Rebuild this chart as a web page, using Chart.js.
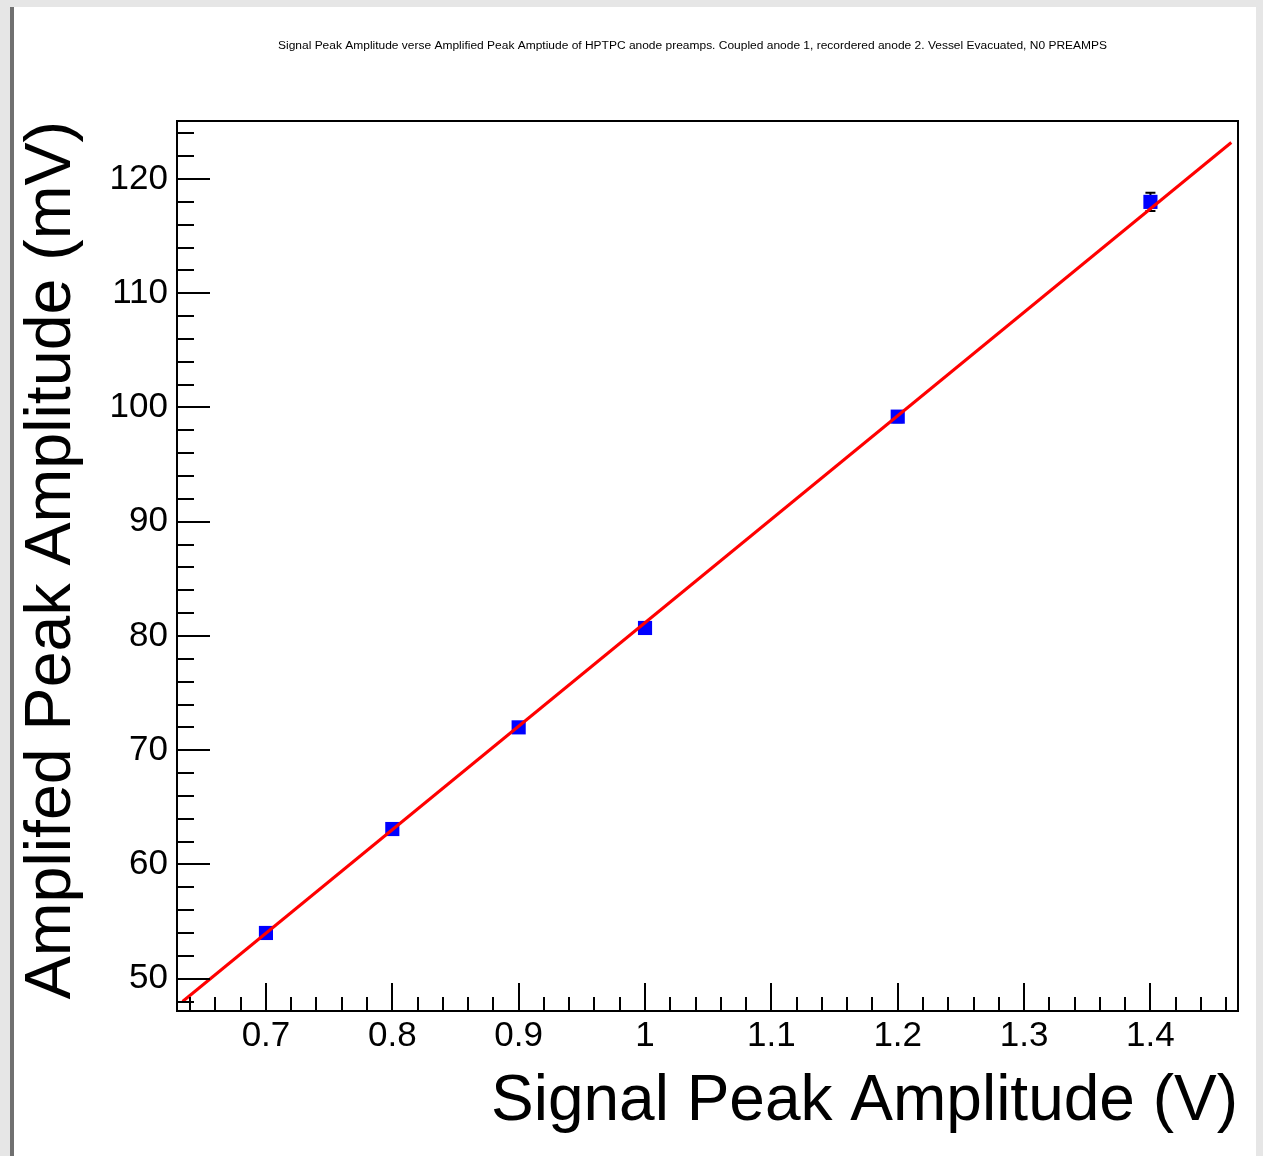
<!DOCTYPE html>
<html>
<head>
<meta charset="utf-8">
<title>Signal vs Amplified Peak Amplitude</title>
<script src="https://cdn.jsdelivr.net/npm/chart.js@4.4.1/dist/chart.umd.min.js"></script>
<style>
    html, body { margin: 0; padding: 0; background: #e6e6e6; }
    #wrap { position: relative; width: 1263px; height: 1156px; overflow: hidden; background: #e6e6e6; }
    #edge { position: absolute; left: 10px; top: 7px; width: 4px; height: 1149px; background: #707070; }
    #plot { position: absolute; left: 14px; top: 7px; background: #fff; }
</style>
</head>
<body>
<div id="wrap">
    <div id="edge"></div>
    <canvas id="plot" width="1242" height="1149"></canvas>
</div>
<script>
// ===== ДАННЫЕ =====
const signalV = [0.7, 0.8, 0.9, 1.0, 1.2, 1.4];          // ось X, В
const amplifiedMv = [54.0, 63.1, 72.0, 80.7, 99.2, 118.0]; // ось Y, мВ
const amplifiedErr = [0.3, 0.3, 0.3, 0.3, 0.5, 0.8];      // погрешность, мВ

// линия фита (концы)
const fitX = [0.634, 1.464];
const fitY = [48.0, 123.2];

// подписи делений
const xTicks = [0.7, 0.8, 0.9, 1.0, 1.1, 1.2, 1.3, 1.4];
const yTicks = [50, 60, 70, 80, 90, 100, 110, 120];

const titleText = 'Signal Peak Amplitude verse Amplified Peak Amptiude of HPTPC anode preamps. Coupled anode 1, recordered anode 2. Vessel Evacuated, N0 PREAMPS';
const xTitle = 'Signal Peak Amplitude (V)';
const yTitle = 'Amplifed Peak Amplitude (mV)';

const FONT = "'Liberation Sans', Arial, Helvetica, sans-serif";

// ===== РАМКА И ДЕЛЕНИЯ ВНУТРЬ (как в ROOT) =====
const framePlugin = {
    id: 'frame',
    afterDraw(chart) {
        const { ctx, chartArea: a, scales: { x, y } } = chart;
        ctx.save();
        ctx.strokeStyle = '#000';
        ctx.lineWidth = 2;
        ctx.strokeRect(a.left, a.top, a.right - a.left, a.bottom - a.top);

        ctx.beginPath();
        // x: главные и малые деления
        for (let i = Math.ceil(x.min / 0.02); i * 0.02 <= x.max; i++) {
            const v = i * 0.02;
            const px = Math.round(x.getPixelForValue(v));
            const major = i % 5 === 0;
            ctx.moveTo(px, a.bottom);
            ctx.lineTo(px, a.bottom - (major ? 28 : 14));
        }
        // y
        for (let i = Math.ceil(y.min / 2); i * 2 <= y.max; i++) {
            const v = i * 2;
            const py = Math.round(y.getPixelForValue(v));
            const major = i % 5 === 0;
            ctx.moveTo(a.left, py);
            ctx.lineTo(a.left + (major ? 33 : 17), py);
        }
        ctx.stroke();
        ctx.restore();

        // заголовок
        ctx.save();
        ctx.fillStyle = '#000';
        ctx.font = '10px ' + FONT;
        const w = ctx.measureText(titleText).width;
        const cx = 678.5, cy = 39.5, target = 829;
        ctx.translate(cx, cy);
        ctx.scale(target / w, 1);
        ctx.textAlign = 'center';
        ctx.textBaseline = 'middle';
        ctx.fillText(titleText, 0, 0);
        ctx.restore();
    }
};

// ===== ПОГРЕШНОСТИ =====
const errorBarPlugin = {
    id: 'errorBars',
    beforeDatasetsDraw(chart) {
        const { ctx, scales: { x, y } } = chart;
        ctx.save();
        ctx.strokeStyle = '#000';
        ctx.lineWidth = 2;
        ctx.beginPath();
        signalV.forEach((sv, i) => {
            const px = x.getPixelForValue(sv);
            const lo = y.getPixelForValue(amplifiedMv[i] - amplifiedErr[i]);
            const hi = y.getPixelForValue(amplifiedMv[i] + amplifiedErr[i]);
            ctx.moveTo(px, lo); ctx.lineTo(px, hi);
            ctx.moveTo(px - 5, lo); ctx.lineTo(px + 5, lo);
            ctx.moveTo(px - 5, hi); ctx.lineTo(px + 5, hi);
        });
        ctx.stroke();
        ctx.restore();
    }
};

const fmt = v => String(+Number(v).toFixed(2));

new Chart(document.getElementById('plot'), {
    type: 'scatter',
    data: {
        datasets: [
            {
                label: 'fit',
                type: 'line',
                data: fitX.map((v, i) => ({ x: v, y: fitY[i] })),
                borderColor: '#ff0000',
                borderWidth: 3,
                pointRadius: 0,
                fill: false,
                order: 0
            },
            {
                label: 'data',
                data: signalV.map((v, i) => ({ x: v, y: amplifiedMv[i] })),
                pointStyle: 'rect',
                pointRadius: 10,
                backgroundColor: '#0000ff',
                borderWidth: 0,
                order: 1
            }
        ]
    },
    options: {
        responsive: false,
        animation: false,
        devicePixelRatio: 1,
        layout: { padding: { top: 114, right: 18, bottom: 22, left: 6 } },
        plugins: {
            legend: { display: false },
            tooltip: { enabled: false },
            title: { display: false }
        },
        scales: {
            x: {
                type: 'linear',
                position: 'bottom',
                min: 0.6296,
                max: 1.4693,
                grid: { display: false, drawTicks: false, tickLength: 0 },
                border: { display: false },
                ticks: {
                    font: { family: FONT, size: 35 },
                    color: '#000',
                    padding: 4,
                    maxRotation: 0,
                    autoSkip: false,
                    callback: fmt
                },
                title: {
                    display: true,
                    text: xTitle,
                    align: 'end',
                    color: '#000',
                    font: { family: FONT, size: 64, lineHeight: 1 },
                    padding: 0
                },
                afterBuildTicks(s) { s.ticks = xTicks.map(v => ({ value: v })); },
                afterFit(s) { s.height = 123; }
            },
            y: {
                type: 'linear',
                min: 47.17,
                max: 125.08,
                grid: { display: false, drawTicks: false, tickLength: 0 },
                border: { display: false },
                ticks: {
                    font: { family: FONT, size: 35 },
                    color: '#000',
                    padding: 9,
                    autoSkip: false,
                    callback: fmt
                },
                title: {
                    display: true,
                    text: yTitle,
                    align: 'end',
                    color: '#000',
                    font: { family: FONT, size: 64.5, lineHeight: 1 },
                    padding: 0
                },
                afterBuildTicks(s) { s.ticks = yTicks.map(v => ({ value: v })); },
                afterFit(s) { s.width = 157; }
            }
        }
    },
    plugins: [errorBarPlugin, framePlugin]
});
</script>
</body>
</html>
